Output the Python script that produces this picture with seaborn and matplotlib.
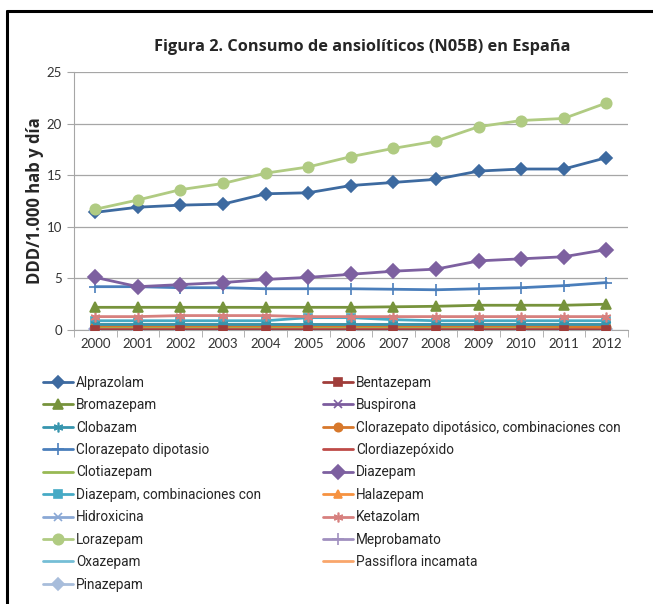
import numpy as np
import pandas as pd
import seaborn as sns
import matplotlib.pyplot as plt
from matplotlib.lines import Line2D
from matplotlib.ticker import MultipleLocator

years = list(range(2000, 2013))

names = ["Alprazolam", "Bentazepam", "Bromazepam", "Buspirona", "Clobazam",
         "Clorazepato dipotásico, combinaciones con", "Clorazepato dipotasio",
         "Clordiazepóxido", "Clotiazepam", "Diazepam", "Diazepam, combinaciones con",
         "Halazepam", "Hidroxicina", "Ketazolam", "Lorazepam", "Meprobamato",
         "Oxazepam", "Passiflora incamata", "Pinazepam"]

alprazolam = [11.4, 11.9, 12.1, 12.2, 13.2, 13.3, 14.0, 14.3, 14.6, 15.4, 15.6, 15.6, 16.7]
bentazepam = [0.05, 0.05, 0.05, 0.05, 0.05, 0.05, 0.05, 0.05, 0.05, 0.05, 0.05, 0.05, 0.05]
bromazepam = [2.2, 2.2, 2.2, 2.2, 2.2, 2.2, 2.2, 2.25, 2.3, 2.4, 2.4, 2.4, 2.5]
buspirona = [0.05, 0.05, 0.05, 0.05, 0.05, 0.05, 0.05, 0.05, 0.05, 0.05, 0.05, 0.05, 0.05]
clobazam = [0.6, 0.6, 0.6, 0.6, 0.6, 0.6, 0.6, 0.6, 0.6, 0.6, 0.6, 0.6, 0.6]
cloraz_comb = [0.4, 0.4, 0.4, 0.4, 0.4, 0.4, 0.4, 0.4, 0.4, 0.4, 0.4, 0.35, 0.3]
cloraz_dipot = [4.2, 4.2, 4.1, 4.1, 4.0, 4.0, 4.0, 3.95, 3.9, 4.0, 4.1, 4.3, 4.6]
clordiazepoxido = [0.1, 0.1, 0.1, 0.1, 0.1, 0.1, 0.1, 0.1, 0.1, 0.1, 0.1, 0.1, 0.1]
clotiazepam = [0.3, 0.3, 0.3, 0.3, 0.3, 0.3, 0.3, 0.3, 0.3, 0.3, 0.3, 0.3, 0.3]
diazepam = [5.1, 4.2, 4.4, 4.6, 4.9, 5.1, 5.4, 5.7, 5.9, 6.7, 6.9, 7.1, 7.8]
diazepam_comb = [0.9, 0.9, 0.9, 0.9, 0.9, 1.2, 1.2, 1.0, 0.9, 0.9, 0.9, 0.9, 0.9]
halazepam = [0.6, 0.6, 0.6, 0.6, 0.6, 0.6, 0.6, 0.6, 0.6, 0.6, 0.6, 0.6, 0.6]
hidroxicina = [0.5, 0.5, 0.5, 0.5, 0.5, 0.5, 0.5, 0.5, 0.5, 0.5, 0.5, 0.5, 0.5]
ketazolam = [1.3, 1.3, 1.4, 1.4, 1.4, 1.3, 1.3, 1.3, 1.3, 1.3, 1.3, 1.3, 1.3]
lorazepam = [11.7, 12.6, 13.6, 14.2, 15.2, 15.8, 16.8, 17.6, 18.3, 19.7, 20.3, 20.5, 22.0]
meprobamato = [0.1, 0.1, 0.1, 0.1, 0.1, 0.1, 0.1, 0.1, 0.1, 0.1, 0.1, 0.1, 0.1]
oxazepam = [0.15, 0.15, 0.15, 0.15, 0.15, 0.15, 0.15, 0.15, 0.15, 0.15, 0.15, 0.15, 0.15]
passiflora = [0.2, 0.2, 0.2, 0.2, 0.2, 0.2, 0.2, 0.2, 0.2, 0.2, 0.2, 0.2, 0.2]
pinazepam = [0.1, 0.1, 0.1, 0.1, 0.1, 0.1, 0.1, 0.1, 0.1, 0.1, 0.1, 0.1, 0.1]

series = [alprazolam, bentazepam, bromazepam, buspirona, clobazam, cloraz_comb,
          cloraz_dipot, clordiazepoxido, clotiazepam, diazepam, diazepam_comb,
          halazepam, hidroxicina, ketazolam, lorazepam, meprobamato, oxazepam,
          passiflora, pinazepam]

colors = ["#3D6AA0", "#A03D3A", "#77933C", "#7C5C9E", "#3795AE", "#D7782B",
          "#4A7EBB", "#BE4B48", "#98B954", "#7D60A0", "#46AAC5", "#F69240",
          "#8AA8D5", "#D7807E", "#B0CB82", "#A08FBF", "#75BED6", "#F9A66B",
          "#A8BDDB"]
markers = ["D", "s", "^", "x", (6, 2, 0), "o", "+", "", "", "D", "s", "^",
           "x", (6, 2, 0), "o", "+", "", "", "D"]
msizes = [6, 6, 7, 6, 7, 6, 8, 0, 0, 7, 6, 6, 6, 7, 7.5, 8, 0, 0, 6]

df = pd.DataFrame({"year": years * len(names),
                   "value": sum(series, []),
                   "name": np.repeat(names, len(years))})

sns.set_style("white")
plt.rcParams['font.family'] = ['Roboto', 'DejaVu Sans']

fig = plt.figure(figsize=(6.53, 6.04), dpi=100)
ax = fig.add_axes([0.1133, 0.4536, 0.848, 0.4272])

# draw back to front so large series stay on top
order = [18, 17, 16, 15, 12, 11, 10, 8, 7, 5, 4, 3, 1, 13, 2, 6, 9, 0, 14]
for i in order:
    d = df[df["name"] == names[i]]
    mk = markers[i] if markers[i] != "" else None
    sns.lineplot(data=d, x="year", y="value", ax=ax, color=colors[i],
                 linewidth=2.0, marker=mk, markersize=msizes[i],
                 markeredgecolor=colors[i], markeredgewidth=1.2,
                 legend=False, zorder=3)

ax.set_xlim(1999.5, 2012.5)
ax.set_ylim(0, 25)
ax.yaxis.set_major_locator(MultipleLocator(5))
ax.set_xticks(years)
ax.set_xticks(np.arange(1999.5, 2013, 1), minor=True)
ax.grid(axis="y", color="#A6A6A6", linewidth=0.9, zorder=0)
ax.grid(axis="x", visible=False)
for s in ["top", "right"]:
    ax.spines[s].set_visible(False)
ax.spines["left"].set_color("#A6A6A6")
ax.spines["bottom"].set_color("#A6A6A6")
ax.tick_params(axis="y", which="major", direction="out", length=5, color="#A6A6A6",
               labelsize=9.5, labelcolor="#333333", left=True)
ax.tick_params(axis="x", which="major", length=0, labelsize=9.5,
               labelcolor="#333333", pad=6)
ax.tick_params(axis="x", which="minor", direction="out", length=5,
               color="#A6A6A6", bottom=True)
for lab in ax.get_xticklabels() + ax.get_yticklabels():
    lab.set_family(["Lato", "DejaVu Sans"])
ax.set_xlabel("")
ax.set_ylabel("DDD/1.000 hab y día", fontsize=12, fontweight="bold",
              family=["Open Sans", "DejaVu Sans"])
ax.yaxis.set_label_coords(-0.055, 0.5)

fig.text(0.555, 0.922, "Figura 2. Consumo de ansiolíticos (N05B) en España",
         ha="center", va="center", fontsize=11.8, fontweight="bold",
         family=["Open Sans", "DejaVu Sans"])

handles = []
for i in range(len(names)):
    mk = markers[i] if markers[i] != "" else None
    handles.append(Line2D([0], [0], color=colors[i], linewidth=2.0, marker=mk,
                          markersize=msizes[i], markeredgecolor=colors[i],
                          markeredgewidth=1.2))
left_idx = list(range(0, 19, 2))
right_idx = list(range(1, 19, 2))
leg_kw = dict(loc="upper left", frameon=False, fontsize=9.8, handlelength=2.2,
              handletextpad=0.2, labelspacing=0.62, borderaxespad=0,
              borderpad=0)
fig.legend([handles[i] for i in left_idx], [names[i] for i in left_idx],
           bbox_to_anchor=(0.066, 0.378), **leg_kw)
fig.legend([handles[i] for i in right_idx], [names[i] for i in right_idx],
           bbox_to_anchor=(0.495, 0.378), **leg_kw)

# outer frame of the original figure box
fig.add_artist(Line2D([0.011, 0.011], [0.0, 0.982], color="black", linewidth=2.2,
                      transform=fig.transFigure))
fig.add_artist(Line2D([0.011, 1.0], [0.982, 0.982], color="black", linewidth=2.2,
                      transform=fig.transFigure))

fig.savefig("out.png", dpi=100)
